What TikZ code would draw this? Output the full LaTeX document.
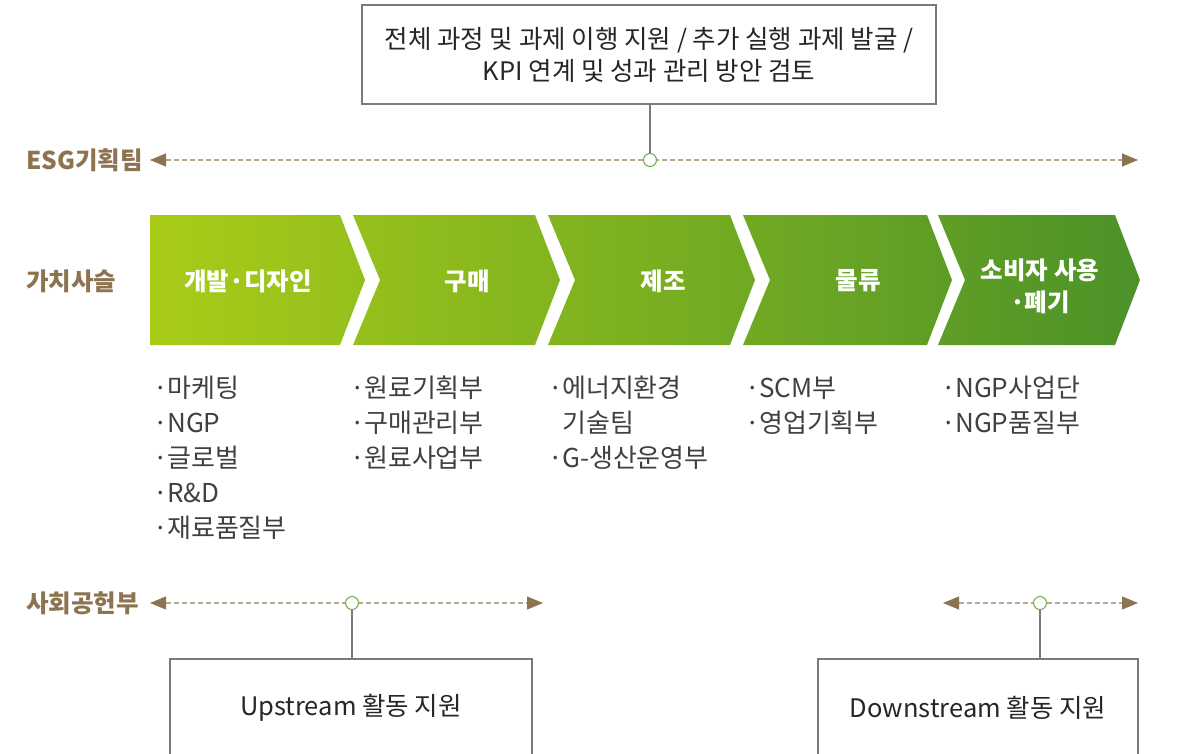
\documentclass[tikz,border=0pt]{standalone}
\usepackage{fontspec}
\setmainfont{Noto Sans CJK KR}
\usetikzlibrary{arrows.meta,positioning}

\definecolor{esgbrown}{HTML}{8C7450}
\definecolor{esgtan}{HTML}{B8A68E}
\definecolor{esggreen}{HTML}{6AAE3E}
\definecolor{esggray}{HTML}{7A7A7A}
\definecolor{chainL}{HTML}{A9CC18}
\definecolor{chainR}{HTML}{4C9229}

\newcommand{\itm}[1]{\makebox[14pt][l]{·}#1}

\tikzset{
  rowlabel/.style={anchor=west, inner sep=0pt, text=esgbrown,
    font=\bfseries\fontsize{24.5}{28}\selectfont},
  track/.style={draw=esgtan, line width=1.1pt, dash pattern=on 5pt off 3pt,
    {Triangle[length=16pt,width=13pt,color=esgbrown]}-{Triangle[length=16pt,width=13pt,color=esgbrown]}},
  hub/.style={circle, draw=esggreen, fill=white, line width=1pt,
    minimum size=13pt, inner sep=0pt},
  link/.style={draw=esggray, line width=1.1pt},
  notebox/.style={draw=esggray, line width=1.1pt, align=center, text=black!85,
    font=\fontsize{25.5}{32}\selectfont},
  chainlabel/.style={text=white, align=center,
    font=\bfseries\fontsize{24.5}{32}\selectfont},
  dept/.style={anchor=base west, align=left, inner sep=0pt, text=black!75,
    font=\fontsize{26}{35}\selectfont},
}

\begin{document}
\begin{tikzpicture}[x=1pt, y=-1pt]
  \useasboundingbox (0,0) rectangle (1177,753);

  % row labels
  \node[rowlabel] (lblesg)   at (26,160) {ESG기획팀};
  \node[rowlabel] (lblchain) at (26,281) {가치사슬};
  \node[rowlabel] (lblsoc)   at (26,603) {사회공헌부};

  % value chain arrows
  \begin{scope}
    \clip (150,215) -- (340,215) -- (365,280) -- (340,345) -- (150,345) -- cycle
      \foreach \a/\b in {353/560,548/755,743/952,938/1140}
        { (\a,215) -- (\b-25,215) -- (\b,280) -- (\b-25,345) -- (\a,345) -- (\a+27,280) -- cycle };
    \shade[left color=chainL, right color=chainR] (150,215) rectangle (1140,345);
  \end{scope}
  \node[chainlabel] (dev)  at (248,281)  {개발·디자인};
  \node[chainlabel] (buy)  at (467,281)  {구매};
  \node[chainlabel] (make) at (663,281)  {제조};
  \node[chainlabel] (ship) at (858,281)  {물류};
  \node[chainlabel] (use)  at (1040,286) {소비자 사용\\·폐기};

  % departments (anchor = baseline of last line)
  \node[dept] (devdept)  at (153,537) {\itm{마케팅}\\\itm{NGP}\\\itm{글로벌}\\\itm{R\&D}\\\itm{재료품질부}};
  \node[dept] (buydept)  at (350,467) {\itm{원료기획부}\\\itm{구매관리부}\\\itm{원료사업부}};
  \node[dept] (makedept) at (548,467) {\itm{에너지환경}\\\hspace*{14pt}기술팀\\\itm{G-생산운영부}};
  \node[dept] (shipdept) at (745,432) {\itm{SCM부}\\\itm{영업기획부}};
  \node[dept] (usedept)  at (941,432) {\itm{NGP사업단}\\\itm{NGP품질부}};

  % ESG team
  \node[notebox, minimum width=574pt, minimum height=99pt] (esgbox) at (649,54.5)
    {전체 과정 및 과제 이행 지원 / 추가 실행 과제 발굴 /\\KPI 연계 및 성과 관리 방안 검토};
  \coordinate (esgL) at (150,160);
  \coordinate (esgR) at (1138,160);
  \draw[track] (esgL) -- (esgR);
  \node[hub] (esghub) at (650,160) {};
  \draw[link] (esghub.north) -- (esghub |- esgbox.south);

  % social contribution
  \coordinate (upL) at (150,603);
  \coordinate (upR) at (543,603);
  \coordinate (dnL) at (943,603);
  \coordinate (dnR) at (1138,603);
  \draw[track] (upL) -- (upR);
  \draw[track] (dnL) -- (dnR);
  \node[hub] (uphub) at (352,603) {};
  \node[hub] (dnhub) at (1040,603) {};
  \node[notebox, minimum width=362pt, minimum height=98pt] (upbox) at (351,708) {Upstream 활동 지원};
  \node[notebox, minimum width=320pt, minimum height=98pt] (dnbox) at (978,708) {Downstream 활동 지원};
  \draw[link] (uphub.south) -- (uphub |- upbox.north);
  \draw[link] (dnhub.south) -- (dnhub |- dnbox.north);
\end{tikzpicture}
\end{document}
